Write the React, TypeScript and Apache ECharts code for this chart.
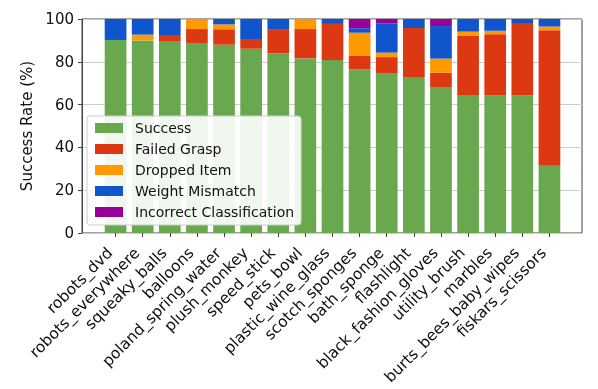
import React, { useEffect, useRef } from "react";
import * as echarts from "echarts";

const categories = [
  "robots_dvd",
  "robots_everywhere",
  "squeaky_balls",
  "balloons",
  "poland_spring_water",
  "plush_monkey",
  "speed_stick",
  "pets_bowl",
  "plastic_wine_glass",
  "scotch_sponges",
  "bath_sponge",
  "flashlight",
  "black_fashion_gloves",
  "utility_brush",
  "marbles",
  "burts_bees_baby_wipes",
  "fiskars_scissors",
];

const success = [90.2, 90, 89.7, 88.8, 88, 86.1, 84, 81.6, 80.8, 76.5, 74.5, 72.9, 68.2, 64.5, 64.2, 64.2, 31.4];
const failedGrasp = [0, 0, 2.8, 6.5, 7.2, 4.6, 11.3, 13.7, 16.9, 6.4, 7.7, 22.9, 6.7, 27.6, 28.7, 33.9, 63.3];
const droppedItem = [0, 2.7, 0, 4.7, 2.3, 0, 0, 4.7, 0, 10.7, 2.1, 0, 6.6, 2, 1.6, 0, 1.8];
const weightMismatch = [9.8, 7.3, 7.5, 0, 2.5, 9.3, 4.7, 0, 2.3, 2.1, 13.7, 4.2, 15.2, 5.9, 5.5, 1.9, 3.5];
const incorrectClassification = [0, 0, 0, 0, 0, 0, 0, 0, 0, 4.3, 2, 0, 3.3, 0, 0, 0, 0];

const yTicks = [0, 20, 40, 60, 80, 100];

const seriesDefs = [
  { name: "Success", data: success, color: "#6aa84f" },
  { name: "Failed Grasp", data: failedGrasp, color: "#dc3912" },
  { name: "Dropped Item", data: droppedItem, color: "#ff9900" },
  { name: "Weight Mismatch", data: weightMismatch, color: "#1155cc" },
  { name: "Incorrect Classification", data: incorrectClassification, color: "#990099" },
];

const FONT = "DejaVu Sans";

export default function App() {
  const ref = useRef<HTMLDivElement>(null);
  useEffect(() => {
    if (!ref.current) return;
    const chart = echarts.init(ref.current, null, { renderer: "svg" });
    chart.setOption({
      animation: false,
      textStyle: { fontFamily: FONT },
      grid: [
        { left: 82, right: 16, top: 19, bottom: 156, show: true, borderColor: "#444", borderWidth: 1, backgroundColor: "transparent" },
        { left: 102, right: 35, top: 19, bottom: 156 },
      ],
      xAxis: [
        { gridIndex: 0, type: "value", min: 0, max: 1, show: false },
        {
          gridIndex: 1,
          type: "category",
          data: categories,
          axisLine: { show: false },
          axisTick: { show: true, alignWithLabel: true, length: 4, lineStyle: { color: "#444" } },
          axisLabel: {
            interval: 0,
            rotate: 45,
            fontSize: 15.5,
            color: "#111",
            fontFamily: FONT,
            margin: 23,
            verticalAlign: "bottom",
          },
        },
      ],
      yAxis: [
        {
          gridIndex: 0,
          type: "value",
          min: yTicks[0],
          max: yTicks[yTicks.length - 1],
          interval: 20,
          name: "Success Rate (%)",
          nameLocation: "middle",
          nameGap: 48,
          nameTextStyle: { fontSize: 15, color: "#111", fontFamily: FONT },
          axisLine: { show: true, lineStyle: { color: "#444" } },
          axisTick: { show: true, length: 4, lineStyle: { color: "#444" } },
          axisLabel: { fontSize: 15, color: "#111", fontFamily: FONT, margin: 8 },
          splitLine: { show: true, lineStyle: { color: "#cccccc", width: 1 } },
        },
        { gridIndex: 1, type: "value", min: 0, max: 100, show: false },
      ],
      legend: {
        orient: "vertical",
        left: 87,
        top: 116,
        itemWidth: 28,
        itemHeight: 10,
        itemGap: 7,
        padding: [5, 7, 6, 8],
        backgroundColor: "rgba(255,255,255,0.9)",
        borderColor: "#cccccc",
        borderWidth: 1,
        borderRadius: 3,
        icon: "rect",
        textStyle: { fontSize: 14, color: "#111", fontFamily: FONT, padding: [0, 0, 0, 7] },
        data: seriesDefs.map((s) => s.name),
      },
      series: seriesDefs.map((s) => ({
        name: s.name,
        type: "bar",
        stack: "total",
        xAxisIndex: 1,
        yAxisIndex: 1,
        barWidth: "80%",
        data: s.data,
        itemStyle: { color: s.color },
      })),
    });
    return () => chart.dispose();
  }, []);
  return <div ref={ref} style={{ position: "fixed", left: 0, top: 0, width: 598, height: 389 }} />;
}
